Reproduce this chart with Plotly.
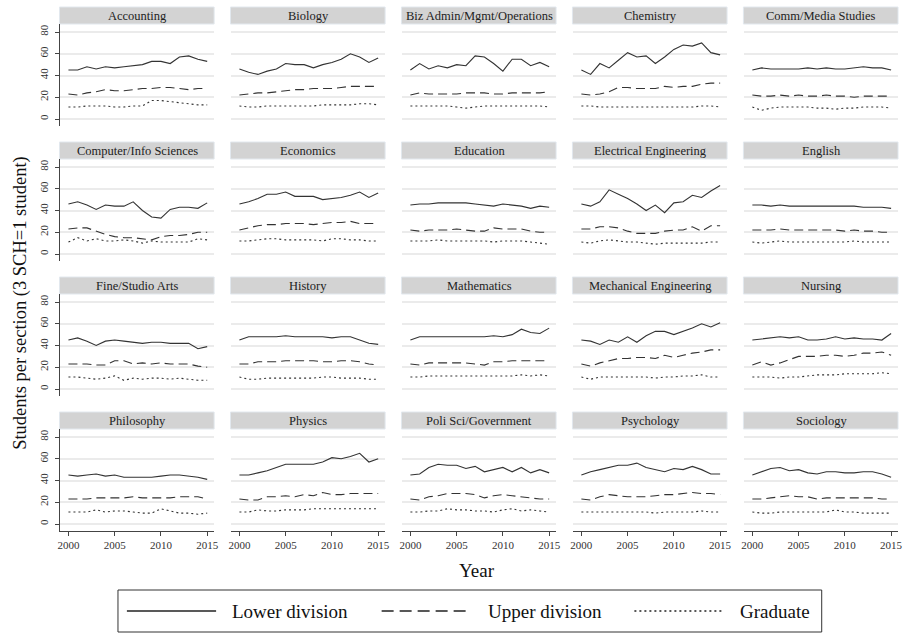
import plotly.graph_objects as go

W, H = 907, 633
FONT = "Liberation Serif"

years = list(range(2000, 2016))
fields = [
    "Accounting", "Biology", "Biz Admin/Mgmt/Operations", "Chemistry", "Comm/Media Studies",
    "Computer/Info Sciences", "Economics", "Education", "Electrical Engineering", "English",
    "Fine/Studio Arts", "History", "Mathematics", "Mechanical Engineering", "Nursing",
    "Philosophy", "Physics", "Poli Sci/Government", "Psychology", "Sociology",
]

lower_division = {
    "Accounting": [45, 45, 48, 46, 48, 47, 48, 49, 50, 53, 53, 51, 57, 58, 55, 53],
    "Biology": [46, 43, 41, 44, 46, 51, 50, 50, 47, 50, 52, 55, 60, 57, 52, 56],
    "Biz Admin/Mgmt/Operations": [45, 51, 46, 49, 47, 50, 49, 58, 57, 51, 44, 55, 55, 49, 52, 48],
    "Chemistry": [45, 41, 51, 47, 54, 61, 57, 58, 51, 57, 64, 68, 67, 70, 61, 59],
    "Comm/Media Studies": [45, 47, 46, 46, 46, 46, 47, 46, 47, 46, 46, 47, 48, 47, 47, 45],
    "Computer/Info Sciences": [46, 48, 45, 41, 45, 44, 44, 48, 40, 34, 33, 41, 43, 43, 42, 47],
    "Economics": [46, 48, 51, 55, 55, 57, 53, 53, 53, 50, 51, 52, 54, 57, 52, 56],
    "Education": [45, 46, 46, 47, 47, 47, 47, 46, 45, 44, 46, 45, 44, 42, 44, 43],
    "Electrical Engineering": [46, 44, 48, 59, 55, 51, 46, 40, 45, 38, 47, 48, 54, 52, 58, 63],
    "English": [45, 45, 44, 45, 44, 44, 44, 44, 44, 44, 44, 44, 43, 43, 43, 42],
    "Fine/Studio Arts": [45, 47, 44, 40, 44, 45, 44, 43, 42, 43, 43, 42, 42, 42, 37, 39],
    "History": [45, 48, 48, 48, 48, 49, 48, 48, 48, 48, 47, 48, 48, 45, 42, 41],
    "Mathematics": [45, 48, 48, 48, 48, 48, 48, 48, 48, 49, 48, 50, 55, 52, 51, 56],
    "Mechanical Engineering": [45, 44, 41, 45, 43, 48, 43, 49, 53, 53, 50, 53, 56, 60, 57, 61],
    "Nursing": [45, 46, 47, 48, 47, 48, 45, 45, 46, 48, 46, 47, 46, 46, 45, 51],
    "Philosophy": [45, 44, 45, 46, 44, 45, 43, 43, 43, 43, 44, 45, 45, 44, 43, 41],
    "Physics": [45, 45, 47, 49, 52, 55, 55, 55, 55, 57, 61, 60, 62, 65, 57, 60],
    "Poli Sci/Government": [45, 46, 52, 55, 54, 54, 51, 53, 48, 50, 52, 48, 52, 47, 50, 47],
    "Psychology": [45, 48, 50, 52, 54, 54, 56, 52, 50, 48, 51, 50, 53, 50, 46, 46],
    "Sociology": [45, 48, 51, 52, 49, 50, 47, 46, 48, 48, 47, 47, 48, 48, 46, 43],
}

upper_division = {
    "Accounting": [23, 22, 24, 25, 27, 26, 26, 27, 28, 28, 29, 29, 28, 27, 28, 28],
    "Biology": [22, 23, 24, 24, 25, 26, 27, 27, 28, 28, 28, 29, 30, 30, 30, 30],
    "Biz Admin/Mgmt/Operations": [22, 24, 23, 23, 23, 23, 24, 24, 24, 23, 23, 24, 24, 24, 24, 25],
    "Chemistry": [23, 22, 23, 25, 29, 29, 28, 28, 28, 30, 29, 30, 30, 32, 33, 33],
    "Comm/Media Studies": [22, 21, 21, 22, 21, 22, 21, 21, 22, 21, 21, 20, 21, 21, 21, 21],
    "Computer/Info Sciences": [23, 24, 24, 21, 18, 16, 15, 15, 14, 13, 16, 17, 17, 18, 20, 20],
    "Economics": [22, 24, 26, 27, 27, 28, 28, 28, 27, 28, 29, 29, 30, 28, 28, 28],
    "Education": [22, 21, 22, 22, 22, 23, 22, 21, 21, 24, 23, 23, 23, 21, 20, 20],
    "Electrical Engineering": [23, 23, 25, 25, 24, 21, 19, 19, 19, 21, 22, 22, 25, 21, 26, 26],
    "English": [22, 22, 22, 23, 22, 22, 22, 22, 22, 22, 21, 22, 21, 21, 20, 20],
    "Fine/Studio Arts": [23, 23, 23, 22, 22, 26, 26, 23, 24, 23, 24, 23, 23, 23, 21, 20],
    "History": [23, 23, 25, 25, 25, 26, 26, 26, 26, 25, 25, 26, 26, 25, 23, 22],
    "Mathematics": [23, 22, 24, 24, 24, 24, 24, 23, 22, 25, 25, 26, 26, 26, 26, 26],
    "Mechanical Engineering": [23, 21, 24, 26, 28, 28, 29, 29, 28, 31, 29, 31, 33, 34, 36, 36],
    "Nursing": [22, 25, 22, 24, 27, 30, 30, 30, 31, 31, 30, 31, 33, 33, 34, 31],
    "Philosophy": [23, 23, 23, 24, 24, 24, 24, 25, 24, 24, 24, 24, 25, 25, 25, 23],
    "Physics": [23, 22, 22, 25, 25, 26, 25, 27, 26, 29, 27, 27, 28, 28, 28, 28],
    "Poli Sci/Government": [23, 22, 25, 26, 28, 28, 28, 27, 24, 26, 27, 26, 25, 24, 23, 23],
    "Psychology": [23, 22, 25, 27, 26, 25, 25, 25, 26, 27, 27, 28, 29, 28, 28, 27],
    "Sociology": [23, 23, 24, 25, 26, 25, 25, 23, 24, 24, 24, 24, 24, 24, 23, 23],
}

graduate = {
    "Accounting": [11, 11, 12, 12, 12, 11, 11, 12, 12, 17, 17, 16, 15, 14, 13, 13],
    "Biology": [12, 11, 11, 12, 12, 12, 12, 12, 12, 13, 13, 13, 13, 14, 14, 13],
    "Biz Admin/Mgmt/Operations": [12, 12, 12, 12, 12, 11, 10, 11, 12, 12, 12, 12, 12, 12, 12, 11],
    "Chemistry": [12, 12, 11, 11, 11, 11, 11, 11, 11, 11, 11, 11, 11, 12, 12, 11],
    "Comm/Media Studies": [11, 8, 10, 11, 11, 11, 11, 10, 10, 9, 10, 10, 11, 11, 11, 10],
    "Computer/Info Sciences": [11, 15, 12, 14, 12, 12, 13, 12, 10, 12, 11, 11, 11, 11, 14, 13],
    "Economics": [12, 12, 13, 14, 14, 13, 13, 13, 13, 12, 14, 14, 13, 13, 12, 12],
    "Education": [12, 12, 12, 13, 12, 12, 12, 12, 12, 11, 12, 12, 12, 11, 10, 9],
    "Electrical Engineering": [11, 10, 12, 13, 12, 11, 11, 10, 9, 10, 10, 10, 10, 10, 11, 11],
    "English": [11, 10, 11, 12, 11, 11, 11, 11, 11, 11, 11, 12, 11, 11, 11, 11],
    "Fine/Studio Arts": [11, 11, 10, 9, 10, 12, 8, 10, 9, 10, 10, 9, 10, 9, 8, 8],
    "History": [11, 9, 9, 10, 10, 10, 10, 10, 10, 11, 11, 10, 10, 10, 9, 9],
    "Mathematics": [11, 11, 12, 12, 12, 12, 12, 12, 12, 12, 12, 12, 13, 12, 13, 12],
    "Mechanical Engineering": [11, 9, 11, 11, 11, 11, 11, 11, 10, 11, 11, 12, 12, 13, 11, 11],
    "Nursing": [11, 11, 11, 10, 11, 11, 12, 13, 13, 13, 14, 14, 14, 14, 15, 14],
    "Philosophy": [11, 11, 11, 13, 11, 12, 12, 11, 10, 10, 14, 12, 10, 10, 9, 10],
    "Physics": [11, 11, 13, 12, 12, 13, 13, 13, 14, 14, 14, 14, 14, 14, 14, 14],
    "Poli Sci/Government": [11, 11, 12, 12, 14, 13, 13, 12, 12, 11, 13, 14, 12, 13, 12, 11],
    "Psychology": [11, 11, 11, 11, 11, 11, 11, 11, 10, 11, 11, 11, 11, 12, 11, 11],
    "Sociology": [11, 10, 10, 11, 11, 11, 11, 11, 11, 13, 11, 11, 10, 10, 10, 10],
}

x_ticks = [2000, 2005, 2010, 2015]
y_ticks = [0, 20, 40, 60, 80]

series = [
    ("Lower division", lower_division, "solid"),
    ("Upper division", upper_division, "9px,5px"),
    ("Graduate", graduate, "2px,3px"),
]

LINE_COLOR = "#333333"
NCOL = 5


def px_x(p):
    return p / W


def px_y(p):
    return 1 - p / H


fig = go.Figure()
layout = dict(
    width=W, height=H,
    margin=dict(l=0, r=0, t=0, b=0),
    paper_bgcolor="white", plot_bgcolor="white",
    showlegend=False,
    font=dict(family=FONT, color="#222222"),
)
shapes = []
annotations = []

for i, field in enumerate(fields):
    r, c = divmod(i, NCOL)
    left = 58 + 172.5 * c
    right = left + 155
    top = 24 + 135 * r
    bottom = top + 102
    ax = "" if i == 0 else str(i + 1)
    bottom_row = (r == 3)
    first_col = (c == 0)
    layout["xaxis" + ax] = dict(
        domain=[px_x(left), px_x(right)],
        anchor="y" + ax,
        range=[1999.14, 2015.75],
        tickvals=x_ticks,
        showticklabels=bottom_row,
        showline=bottom_row,
        linecolor="#444444", linewidth=1,
        ticks="outside" if bottom_row else "",
        ticklen=4, tickcolor="#444444",
        tickfont=dict(family=FONT, size=11, color="#333333"),
        showgrid=False, zeroline=False, fixedrange=True,
    )
    layout["yaxis" + ax] = dict(
        domain=[px_y(bottom), px_y(top)],
        anchor="x" + ax,
        range=[-6.44, 87.36],
        tickvals=y_ticks,
        showticklabels=first_col,
        tickangle=-90,
        showline=first_col,
        linecolor="#444444", linewidth=1,
        ticks="outside" if first_col else "",
        ticklen=4, tickcolor="#444444",
        ticklabelstandoff=3,
        tickfont=dict(family=FONT, size=11, color="#333333"),
        showgrid=True, gridcolor="#ebebeb", gridwidth=1.5,
        zeroline=False, fixedrange=True,
    )
    for name, data, dash in series:
        fig.add_trace(go.Scatter(
            x=years, y=data[field], mode="lines", name=name,
            line=dict(color=LINE_COLOR, width=1.1, dash=dash),
            xaxis="x" + ax, yaxis="y" + ax, showlegend=False,
            hoverinfo="skip",
        ))
    # facet header strip
    h_top = 7 + 135 * r
    h_bot = 24 + 135 * r
    shapes.append(dict(
        type="rect", xref="paper", yref="paper",
        x0=px_x(left - 1), x1=px_x(right), y0=px_y(h_bot), y1=px_y(h_top),
        fillcolor="#d3d3d3", line=dict(color="#e2e8ee", width=1), layer="below",
    ))
    annotations.append(dict(
        text=field, xref="paper", yref="paper",
        x=px_x((left + right) / 2), y=px_y((h_top + h_bot) / 2),
        xanchor="center", yanchor="middle", showarrow=False,
        font=dict(family=FONT, size=12.5, color="#222222"),
    ))

# axis titles
annotations.append(dict(
    text="Year", xref="paper", yref="paper", x=px_x(478), y=px_y(570),
    xanchor="center", yanchor="middle", showarrow=False,
    font=dict(family=FONT, size=19, color="#111111"),
))
annotations.append(dict(
    text="Students per section (3 SCH=1 student)", xref="paper", yref="paper",
    x=px_x(18), y=px_y(303), textangle=-90,
    xanchor="center", yanchor="middle", showarrow=False,
    font=dict(family=FONT, size=18.5, color="#111111"),
))

# legend box
shapes.append(dict(
    type="rect", xref="paper", yref="paper",
    x0=px_x(116), x1=px_x(826), y0=px_y(632), y1=px_y(590),
    line=dict(color="#333333", width=1), fillcolor="rgba(0,0,0,0)",
))
legend_items = [
    ("Lower division", "solid", 125, 215, 229),
    ("Upper division", "12px,6px", 382, 471, 487),
    ("Graduate", "2px,3px", 637, 725, 742),
]
ly = 611
for label, dash, x0, x1, tx in legend_items:
    shapes.append(dict(
        type="line", xref="paper", yref="paper",
        x0=px_x(x0), x1=px_x(x1), y0=px_y(ly), y1=px_y(ly),
        line=dict(color="#222222", width=1.5, dash=dash),
    ))
    annotations.append(dict(
        text=label, xref="paper", yref="paper", x=px_x(tx), y=px_y(ly),
        xanchor="left", yanchor="middle", showarrow=False,
        font=dict(family=FONT, size=19, color="#111111"),
    ))

layout["shapes"] = shapes
layout["annotations"] = annotations
fig.update_layout(**layout)

fig.write_html(
    "out.html",
    config={"displayModeBar": False},
    post_script="document.body.style.margin='0';document.body.style.overflow='hidden';",
)
